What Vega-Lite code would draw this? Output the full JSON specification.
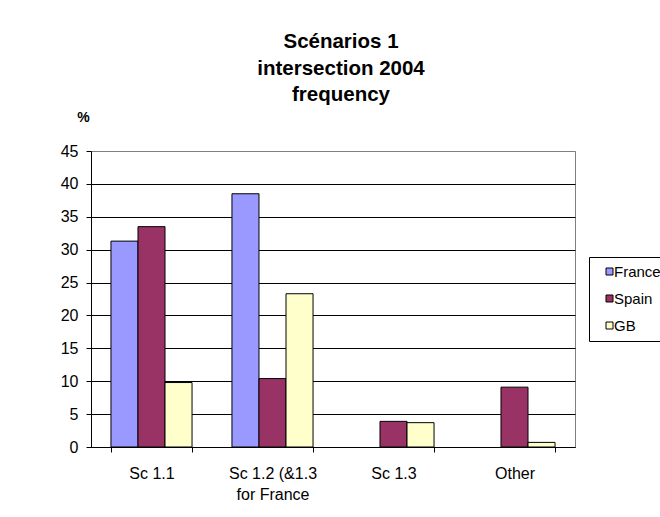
{
  "$schema": "https://vega.github.io/schema/vega-lite/v6.json",
  "width": 484,
  "height": 296,
  "autosize": {"type": "none"},
  "padding": {"left": 91, "top": 151, "right": 85, "bottom": 70},
  "background": "white",
  "title": {
    "text": ["Scénarios 1", "intersection 2004", "frequency"],
    "font": "Liberation Sans",
    "fontSize": 20.5,
    "fontWeight": "bold",
    "lineHeight": 26.5,
    "anchor": "middle",
    "dx": 8,
    "offset": 5,
    "color": "black"
  },
  "data": {
    "values": [
      {"scenario": "Sc 1.1", "country": "France", "value": 31.3},
      {"scenario": "Sc 1.1", "country": "Spain", "value": 33.5},
      {"scenario": "Sc 1.1", "country": "GB", "value": 9.8},
      {"scenario": "Sc 1.2 (&1.3 for France", "country": "France", "value": 38.5},
      {"scenario": "Sc 1.2 (&1.3 for France", "country": "Spain", "value": 10.4},
      {"scenario": "Sc 1.2 (&1.3 for France", "country": "GB", "value": 23.3},
      {"scenario": "Sc 1.3", "country": "Spain", "value": 3.9},
      {"scenario": "Sc 1.3", "country": "GB", "value": 3.7},
      {"scenario": "Other", "country": "Spain", "value": 9.1},
      {"scenario": "Other", "country": "GB", "value": 0.7}
    ]
  },
  "mark": {"type": "bar", "stroke": "black", "strokeWidth": 1},
  "encoding": {
    "x": {
      "field": "scenario",
      "type": "nominal",
      "sort": ["Sc 1.1", "Sc 1.2 (&1.3 for France", "Sc 1.3", "Other"],
      "scale": {"paddingInner": 0.33, "paddingOuter": 0.165},
      "axis": {
        "title": null,
        "labelAngle": 0,
        "labelFont": "Liberation Sans",
        "labelFontSize": 16,
        "labelColor": "black",
        "labelPadding": 13,
        "labelLineHeight": 21,
        "labelExpr": "datum.label == 'Sc 1.2 (&1.3 for France' ? ['Sc 1.2 (&1.3', 'for France'] : datum.label",
        "tickBand": "extent",
        "tickSize": 5,
        "tickColor": "black",
        "domainColor": "black",
        "grid": false
      }
    },
    "xOffset": {
      "field": "country",
      "type": "nominal",
      "scale": {"domain": ["France", "Spain", "GB"], "paddingInner": 0, "paddingOuter": 0}
    },
    "y": {
      "field": "value",
      "type": "quantitative",
      "scale": {"domain": [0, 45], "nice": false},
      "axis": {
        "title": "%",
        "titleAngle": 0,
        "titleFont": "Liberation Sans",
        "titleFontWeight": "bold",
        "titleFontSize": 14,
        "titleColor": "black",
        "titleX": -8,
        "titleY": -33.5,
        "titleAlign": "center",
        "titleBaseline": "middle",
        "values": [0, 5, 10, 15, 20, 25, 30, 35, 40, 45],
        "grid": true,
        "gridColor": {"condition": {"test": "datum.value == 45", "value": "#808080"}, "value": "black"},
        "gridOpacity": 1,
        "domainColor": "black",
        "tickColor": "black",
        "tickSize": 5,
        "labelFont": "Liberation Sans",
        "labelFontSize": 16,
        "labelColor": "black",
        "labelPadding": 8
      }
    },
    "color": {
      "field": "country",
      "type": "nominal",
      "scale": {"domain": ["France", "Spain", "GB"], "range": ["#9999FF", "#993366", "#FFFFCC"]},
      "legend": {
        "orient": "none",
        "legendX": 498,
        "legendY": 106,
        "title": null,
        "strokeColor": "black",
        "fillColor": "white",
        "padding": 7,
        "symbolOffset": 6,
        "symbolType": "square",
        "symbolSize": 49,
        "symbolStrokeColor": "black",
        "symbolStrokeWidth": 1,
        "symbolOpacity": 1,
        "labelFont": "Liberation Sans",
        "labelFontSize": 15,
        "labelColor": "black",
        "labelOffset": -3,
        "rowPadding": 11
      }
    }
  },
  "config": {
    "view": {"stroke": "#808080"},
    "font": "Liberation Sans"
  }
}
